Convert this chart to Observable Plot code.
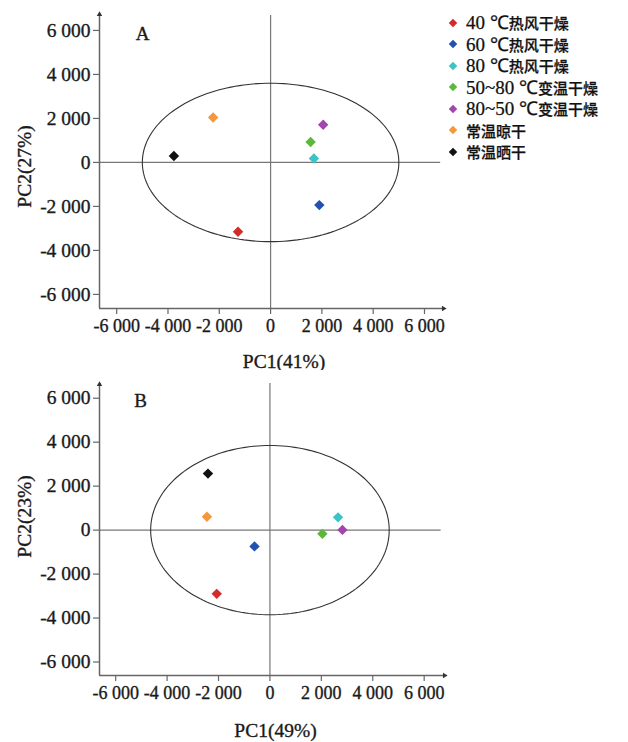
<!DOCTYPE html>
<html><head><meta charset="utf-8">
<script src="https://cdn.jsdelivr.net/npm/d3@7"></script>
<script src="https://cdn.jsdelivr.net/npm/@observablehq/plot@0.6"></script>
<style>
body{margin:0;background:#fff;width:628px;height:742px;position:relative;overflow:hidden;font-family:"Liberation Serif","Noto Sans CJK SC",serif;}
#a{position:absolute;left:0;top:0}
#b{position:absolute;left:0;top:370px}
#a svg text, #b svg text{stroke:#1a1a1a;stroke-width:0.35px}
#legend{position:absolute;left:445px;top:12px;line-height:21.5px;color:#111;-webkit-text-stroke:0.25px #111}
.item{display:flex;align-items:center;white-space:nowrap;height:21.5px}
.sw{width:6px;height:6px;transform:rotate(45deg);margin:0 10px 0 5px;flex:none}
.lat{font-family:"Liberation Serif",serif;font-size:19px;line-height:21px}
.cjk{font-family:"Noto Sans CJK SC",sans-serif;font-size:15px;font-weight:500;line-height:21px}
</style></head>
<body>
<div id="a"></div><div id="b"></div><div id="legend"></div>
<script>
const groups = ["40 ℃热风干燥","60 ℃热风干燥","80 ℃热风干燥","50~80 ℃变温干燥","80~50 ℃变温干燥","常温晾干","常温晒干"];
const colors = ["#d42a2a","#2152b3","#3cc3c6","#5cb83a","#a246ad","#f5973a","#111111"];
const pc1A = [-1270, 1900, 1690, 1560, 2050, -2240, -3770];
const pc2A = [-3150, -1940, 180, 925, 1710, 2045, 290];
const pc1B = [-2070, -600, 2650, 2040, 2820, -2450, -2410];
const pc2B = [-2900, -740, 580, -170, 10, 610, 2570];
const tickValues = [-6000, -4000, -2000, 0, 2000, 4000, 6000];
const ellipseA = {rx: 5000, ry: 3600};
const ellipseB = {rx: 4640, ry: 3850};
const fmt = d3.formatLocale({decimal: ".", thousands: " ", grouping: [3], currency: ["", ""], minus: "-"}).format(",");

function panel(sel, cfg) {
  const data = groups.map((g, i) => ({g, x: cfg.pc1[i], y: cfg.pc2[i]}));
  const ell = d3.range(0, 361, 2).map(t => ({x: cfg.ell.rx * Math.cos(t * Math.PI / 180), y: cfg.ell.ry * Math.sin(t * Math.PI / 180)}));
  const [x0, x1] = cfg.xDomain, [y0, y1] = cfg.yDomain;
  const axisColor = "#666";
  const txt = "#1a1a1a";
  const p = Plot.plot({
    width: 628, height: cfg.height,
    marginLeft: 99, marginRight: cfg.mr, marginTop: 13, marginBottom: cfg.mb,
    style: {fontFamily: "'Liberation Serif', serif", background: "white", color: txt, overflow: "visible"},
    x: {domain: cfg.xDomain},
    y: {domain: cfg.yDomain},
    color: {domain: groups, range: colors},
    marks: [
      Plot.ruleX([0], {y1: y0, y2: cfg.vTop, stroke: "#777", strokeWidth: 1.2}),
      Plot.ruleY([0], {x1: x0, x2: cfg.hRight, stroke: "#777", strokeWidth: 1.2}),
      Plot.line(ell, {x: "x", y: "y", stroke: "#333", strokeWidth: 1.1}),
      Plot.ruleX([x0], {y1: y0, y2: y1, stroke: axisColor, strokeWidth: 1.5}),
      Plot.ruleY([y0], {x1: x0, x2: x1, stroke: axisColor, strokeWidth: 1.5}),
      Plot.dot([x0], {x: d => d, y: y1, symbol: "triangle2", r: 2.6, fill: "#333", dy: 1}),
      Plot.dot([y0], {y: d => d, x: x1, symbol: "triangle2", rotate: 90, r: 2.6, fill: "#333", dx: -1}),
      Plot.axisY(tickValues, {tickSize: 6, tickPadding: 3, fontSize: 19.5, tickFormat: fmt, stroke: axisColor, strokeWidth: 1.2, label: null}),
      Plot.axisX(tickValues, {tickSize: 6, tickPadding: 5, fontSize: 18, tickFormat: fmt, stroke: axisColor, strokeWidth: 1.2, label: null}),
      Plot.dot(data, {x: "x", y: "y", fill: "g", symbol: "diamond2", r: 4.7}),
      Plot.text([cfg.letter], {text: d => d, frameAnchor: "top-left", textAnchor: "middle", lineAnchor: "middle", dx: cfg.letterDx, dy: cfg.letterDy, fontSize: 19, fill: txt}),
      Plot.text([cfg.xLabel], {text: d => d, frameAnchor: "bottom", textAnchor: "middle", lineAnchor: "middle", dx: cfg.xlDx, dy: cfg.xlDy, fontSize: 19.5, fill: txt}),
      Plot.text([cfg.yLabel], {text: d => d, frameAnchor: "left", textAnchor: "middle", lineAnchor: "middle", rotate: -90, dx: -75, dy: cfg.ylDy, fontSize: 19.5, fill: txt})
    ]
  });
  document.querySelector(sel).append(p);
}

panel("#a", {pc1: pc1A, pc2: pc2A, ell: ellipseA, height: 370, mr: 184, mb: 62,
  xDomain: [-6670, 6780], yDomain: [-6640, 6770], vTop: 6680, hRight: 6630,
  letter: "A", letterDx: 43, letterDy: 20, xLabel: "PC1(41%)", xlDx: 12, xlDy: 53,
  yLabel: "PC2(27%)", ylDy: 5.5});
panel("#b", {pc1: pc1B, pc2: pc2B, ell: ellipseB, height: 372, mr: 183, mb: 67,
  xDomain: [-6630, 6830], yDomain: [-6614, 6670], vTop: 6670, hRight: 6660,
  letter: "B", letterDx: 41, letterDy: 17, xLabel: "PC1(49%)", xlDx: 3, xlDy: 55,
  yLabel: "PC2(23%)", ylDy: -13});

const legend = document.getElementById("legend");
groups.forEach((g, i) => {
  const row = document.createElement("div");
  row.className = "item";
  const sw = document.createElement("span");
  sw.className = "sw";
  sw.style.background = colors[i];
  row.append(sw);
  const runs = g.match(/[\u0000-\u00ff\u2103]+|[^\u0000-\u00ff\u2103]+/g);
  runs.forEach(r => {
    const s = document.createElement("span");
    s.className = /[\u0000-\u00ff\u2103]/.test(r) ? "lat" : "cjk";
    s.textContent = r;
    row.append(s);
  });
  legend.append(row);
});
</script>
</body></html>
